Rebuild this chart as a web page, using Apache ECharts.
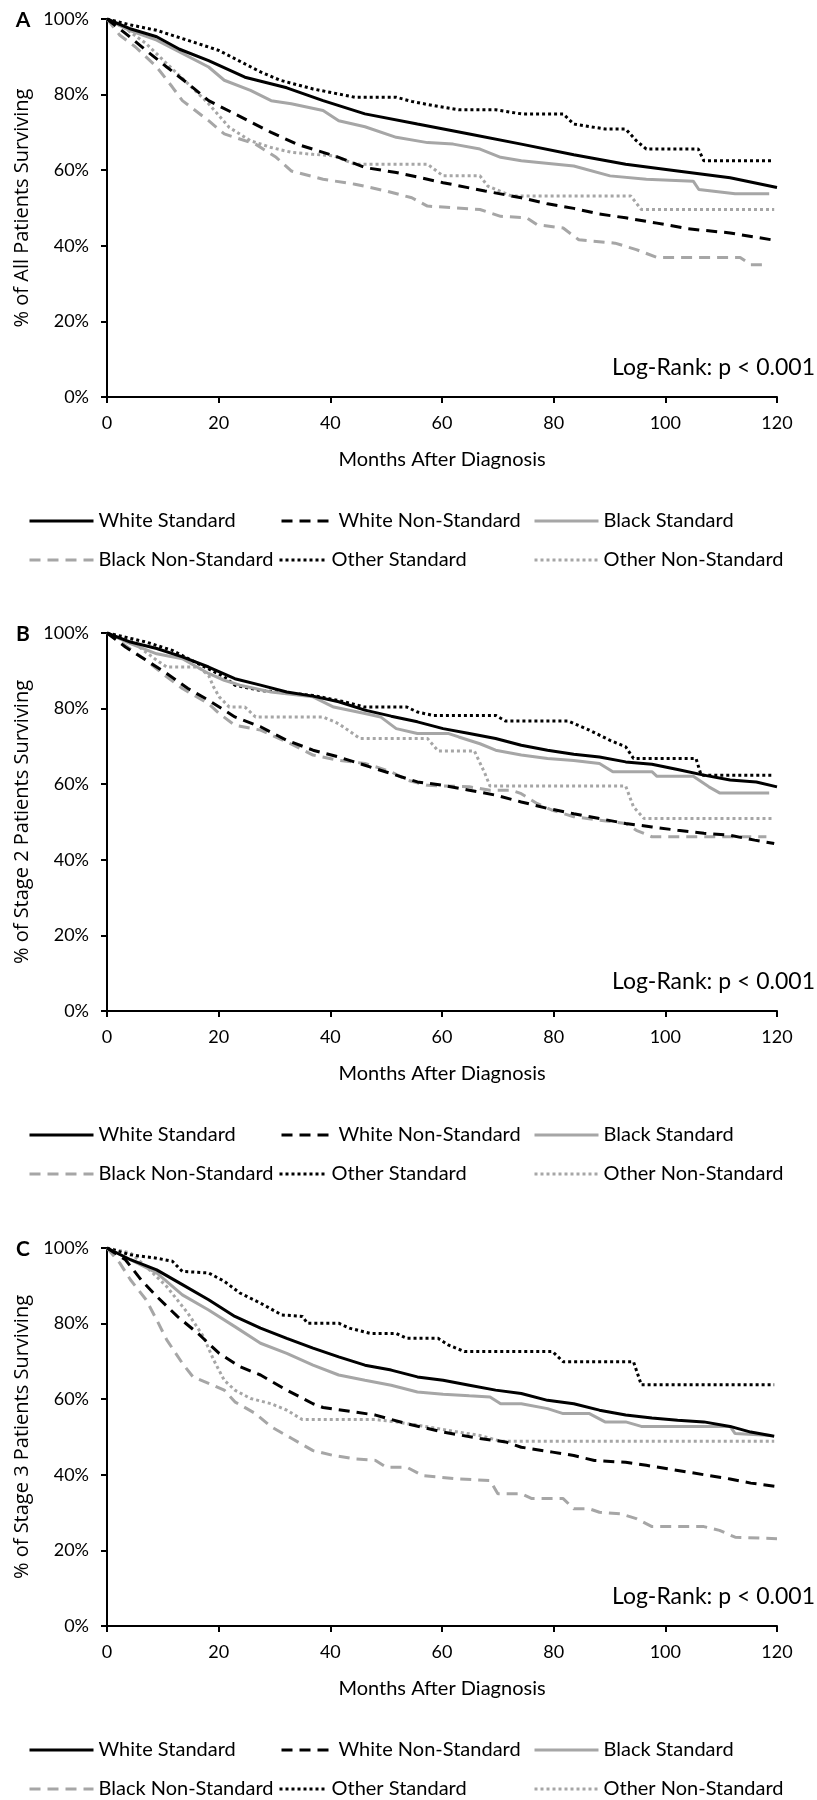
<!DOCTYPE html>
<html><head><meta charset="utf-8">
<script src="https://cdn.jsdelivr.net/npm/echarts@6/dist/echarts.min.js"></script>
<style>html,body{margin:0;padding:0;background:#fff}#c{width:817px;height:1800px}</style>
</head><body><div id="c"></div>
<script>
// ---------- text ----------
const seriesNames = ['White Standard','White Non-Standard','Black Standard','Black Non-Standard','Other Standard','Other Non-Standard'];
const panelLetters = ['A','B','C'];
const yTitles = ['% of All Patients Surviving','% of Stage 2 Patients Surviving','% of Stage 3 Patients Surviving'];
const xTitle = 'Months After Diagnosis';
const statText = 'Log-Rank: p < 0.001';
const xTickStep = 20, xMax = 120;
const yTickStep = 20, yMax = 100;

// ---------- data: [months, % surviving] ----------
// Panel A: all patients
const whiteStdA = [[0,100],[4,97.5],[8.9,95.3],[13,92],[18.2,89],[24.7,84.6],[32.2,81.8],[38.7,78.4],[46.2,74.9],[55.6,72.2],[64.9,69.6],[74.2,66.9],[83.6,64.1],[92.9,61.6],[102.2,59.8],[111.6,58],[120,55.4]];
const whiteNonA = [[0,100],[3.3,96.2],[7,91.7],[10.7,87.3],[14.5,82.9],[18.2,78.4],[22.9,74.9],[29.4,70],[34,66.9],[41.5,63.4],[46.2,60.7],[51.8,59.4],[60.2,56.7],[67.7,54.5],[74.2,52.7],[78.9,51.1],[83.6,49.9],[88.2,48.4],[92.9,47.4],[98.5,46],[104.1,44.5],[111.6,43.4],[119,41.6]];
const blackStdA = [[0,100],[4,97],[8.9,94.4],[13.5,90.9],[18.2,87.3],[21,83.8],[25.7,81.1],[29.4,78.4],[33,77.6],[38.7,75.8],[41.5,73.1],[46.2,71.5],[51.8,68.7],[57.4,67.3],[62,66.9],[66.8,65.6],[70.5,63.4],[74.2,62.5],[83.6,61.1],[90.1,58.5],[96.6,57.6],[105,57.1],[106,54.9],[112.5,53.8],[118.6,53.8]];
const blackNonA = [[0,100],[2.3,95.7],[5.1,92.6],[8.9,87.3],[11.7,82],[13.5,78.4],[18.2,73.1],[21,69.6],[26.6,66.9],[30.3,63.4],[33,59.8],[38.7,57.6],[44.4,56.3],[50,54.5],[54.6,52.7],[57.4,50.5],[66.8,49.6],[70.5,47.8],[75.2,47.4],[77,45.6],[81.7,44.7],[84.5,41.6],[91,40.7],[94.8,39],[98.5,36.9],[113.4,36.9],[115.3,35],[118,35]];
const otherStdA = [[0,100],[4,98.5],[8.9,97],[16.3,93.5],[20,91.7],[27.5,86],[31,83.8],[36.9,81.5],[44.4,79.3],[51.8,79.3],[54.6,78.2],[58.4,77.1],[63,76],[69.6,76],[74.2,74.9],[81.7,74.9],[83.6,72.2],[89.2,70.9],[92.9,70.9],[94.8,67.8],[96.6,65.6],[105.9,65.6],[106.9,62.5],[119,62.5]];
const otherNonA = [[0,100],[3.3,97.5],[7,93.5],[10.7,88.2],[14.5,82.9],[18.2,77.6],[21.9,71.3],[25.7,67.8],[29.4,66],[33.1,64.7],[36.9,64.2],[40.6,63.8],[44.4,61.6],[57.4,61.6],[60.2,58.5],[66.8,58.5],[68.2,55.8],[72.4,53.2],[93.8,53.2],[95.7,49.6],[119.5,49.6]];

// Panel B: stage 2
const whiteStdB = [[0,100],[4.2,97.6],[8.9,95.9],[13.5,93.7],[18.2,91],[22.9,87.9],[27.5,86.2],[32.2,84.4],[36.9,83.3],[41.5,81.8],[46.2,79.6],[50.9,78],[55.6,76.5],[60.2,74.7],[64.9,73.4],[69.6,72.1],[74.2,70.3],[78.9,69],[83.6,67.9],[88.2,67.2],[92.9,65.9],[97.6,65.3],[102.2,63.9],[106.9,62.4],[111.6,61.1],[116.3,60.6],[120,59.3]];
const whiteNonB = [[0,100],[3.3,96.3],[7,92.8],[10.7,89.3],[14.5,85.3],[18.2,82.2],[22.9,77.8],[27.5,75.2],[32.2,71.6],[36.9,69],[41.5,67.2],[46.2,65],[50.9,62.8],[55.6,60.6],[60.2,59.7],[64.9,58.4],[69.6,57.1],[74.2,55.3],[78.9,53.6],[83.6,52.2],[88.2,50.9],[92.9,49.6],[97.6,48.7],[102.2,47.8],[106.9,47],[111.6,46.5],[116,45.2],[119.5,44.3]];
const blackStdB = [[0,100],[4.2,97.2],[8.9,94.5],[13.5,93.2],[18.2,89.3],[21,87.5],[23.8,86.2],[29.4,84.4],[36.9,83.1],[40.6,80.4],[46.2,78.7],[49,77.8],[51.8,74.7],[55.6,73.4],[61.2,73.4],[63,72.5],[66.8,70.7],[69.6,69],[74.2,67.7],[78.9,66.8],[83.6,66.3],[88.2,65.5],[90.6,63.3],[97.6,63.3],[98.5,62.1],[105,62.1],[107.8,59.3],[109.7,57.7],[118.6,57.7]];
const blackNonB = [[0,100],[3.3,96.7],[7,92.8],[10.7,88.4],[13.5,85.3],[18.2,81.3],[20.1,78.7],[22.9,75.6],[27.5,74.3],[32.2,71.2],[36.9,67.7],[41.5,66.3],[46.2,65.5],[50.9,63.3],[53.7,61.1],[57.4,59.7],[64.9,59.3],[68.6,58.4],[72.4,58.4],[74.2,57.5],[77,54.9],[79.8,53.1],[83.6,51.4],[88.2,50.5],[92.9,49.6],[94.8,47.8],[97.6,46.1],[118.1,46.1]];
const otherStdB = [[0,100],[3,99],[7,97.6],[11.7,95.4],[16.3,91.9],[21,88.4],[22.9,86.2],[27.5,84.8],[33.1,84],[36.9,83.5],[42.5,81.8],[46.2,80.4],[53.7,80.4],[55.6,79.1],[58.4,78.2],[69.6,78.2],[71.4,76.7],[82.6,76.7],[86.4,74.3],[90.1,71.6],[92.9,69.9],[94.3,66.8],[105.5,66.8],[106.4,62.4],[119.5,62.4]];
const otherNonB = [[0,100],[4.2,98],[8.9,92.8],[10.7,91],[16.3,91],[18.2,88.8],[19.1,85.7],[20.1,83.1],[21.9,80.4],[24.7,80.4],[26.6,77.8],[38.7,77.8],[41.5,76],[45.3,72.1],[57.4,72.1],[59.3,68.8],[65.8,68.8],[67.7,62.8],[68.6,59.5],[92.9,59.5],[94.3,54],[96.2,50.9],[119.5,50.9]];

// Panel C: stage 3
const whiteStdC = [[0,100],[4.2,96.9],[8.9,94.2],[13.5,90.3],[18.2,86.3],[22.9,81.9],[27.5,78.8],[32.2,76.1],[36.9,73.5],[41.5,71.2],[46.2,69],[50.9,67.7],[55.6,65.9],[60.2,65],[64.9,63.7],[69.6,62.4],[74.2,61.5],[78.9,59.7],[83.6,58.8],[88.2,57.1],[92.9,55.8],[97.6,55],[102.2,54.4],[106.9,54],[111.6,52.8],[115.3,51.3],[119.5,50.2]];
const whiteNonC = [[0,100],[3.3,96.9],[6.1,91.6],[8.9,87.2],[12.6,81.9],[16.3,77.4],[20.1,72.1],[23.8,68.6],[27.5,66.4],[32.2,62.4],[36.9,58.8],[38.7,57.8],[44.4,56.6],[48.1,55.8],[53.7,53.5],[60.2,51.3],[66.8,49.6],[71.4,48.7],[74.2,47.3],[79.8,46],[83.6,45.1],[87.3,43.8],[92.9,43.3],[96.6,42.5],[100.4,41.6],[104.1,40.7],[107.8,39.8],[111.6,38.9],[115.3,37.8],[120,36.9]];
const blackStdC = [[0,100],[4.2,96.9],[8.9,93.4],[13.5,87.6],[18.2,83.6],[22.9,79.2],[27.5,74.8],[32.2,72.1],[36.9,69],[41.5,66.4],[46.2,65],[50.9,63.7],[55.6,61.9],[60.2,61.3],[64.9,60.9],[68.6,60.6],[70.5,58.8],[74.2,58.8],[78.9,57.5],[81.7,56.2],[86.4,56.2],[89.2,54],[92.9,54],[95.7,52.8],[111.6,52.8],[112.5,50.9],[119,50.4]];
const blackNonC = [[0,100],[2.3,96],[4.2,91.6],[7,86.3],[8.9,81],[10.7,75.7],[13.5,69.5],[15.4,65.9],[18.2,64.2],[21,62.4],[22.9,59.3],[26.6,56.2],[29.4,52.7],[33.1,49.6],[36.9,46.4],[40.6,45.1],[44.4,44.2],[48.1,43.8],[50,42],[53.7,42],[56.5,39.8],[63,38.9],[68.6,38.5],[70,35],[74.2,35],[76.1,33.7],[81.7,33.7],[83.6,31],[86.4,31],[88.2,30.1],[92,29.7],[94.8,28.4],[97.6,26.3],[106.9,26.3],[109.7,25.3],[112.5,23.5],[120,23.1]];
const otherStdC = [[0,100],[4.2,98.2],[8.9,97.3],[11.7,96.5],[13.5,93.8],[18.2,93.4],[21,91.2],[23.8,88.1],[27.5,85.4],[31.3,82.3],[35,81.9],[35.9,80.1],[41.5,80.1],[43.4,78.8],[47.2,77.4],[51.8,77.4],[53.7,76.1],[59.3,76.1],[61.2,74.3],[64,72.6],[79.8,72.6],[81.7,69.9],[94.3,69.9],[95.7,63.8],[119.5,63.8]];
const otherNonC = [[0,100],[4.2,98.7],[7,95.1],[10.7,89.8],[14.5,82.7],[17.3,76.5],[19.1,70.4],[21,65],[22.9,62.4],[25.7,60.2],[29.4,58.8],[32.2,57.1],[35,54.6],[48.1,54.6],[51.8,54],[57.4,52.7],[63,51.3],[66.8,50.4],[70.5,48.9],[119.5,48.9]];

const panelData = [
  [whiteStdA, whiteNonA, blackStdA, blackNonA, otherStdA, otherNonA],
  [whiteStdB, whiteNonB, blackStdB, blackNonB, otherStdB, otherNonB],
  [whiteStdC, whiteNonC, blackStdC, blackNonC, otherStdC, otherNonC]
];

// ---------- styles / layout ----------
const GRAY = '#a6a6a6';
const lineStyles = [
  {color:'#000', type:'solid'},
  {color:'#000', type:[11,7]},
  {color:GRAY, type:'solid'},
  {color:GRAY, type:[11,7]},
  {color:'#000', type:[3,3]},
  {color:GRAY, type:[3,3]}
];
const panelTop = [19, 633, 1248];
const plotLeft = 107, plotWidth = 670, plotHeight = 378;
const legendItems = [
  {left:28, w:64, row:0}, {left:280, w:52, row:0}, {left:533, w:64, row:0},
  {left:28, w:64, row:1}, {left:278, w:47, row:1}, {left:533, w:64, row:1}
];
const legendRowOffset = [502, 541];
const TXT = 'Lato, "Open Sans", sans-serif';

const grids = [], xAxes = [], yAxes = [], series = [], legends = [], graphics = [];
panelTop.forEach((top, p) => {
  grids.push({left: plotLeft, top: top, width: plotWidth, height: plotHeight, containLabel: false});
  xAxes.push({
    gridIndex: p, type: 'value', min: 0, max: xMax, interval: xTickStep,
    name: xTitle, nameLocation: 'middle', nameGap: 53,
    nameTextStyle: {fontFamily: TXT, fontSize: 20, color: '#000'},
    axisLine: {show: true, onZero: false, lineStyle: {color: '#000', width: 2}},
    axisTick: {show: true, length: 6, lineStyle: {color: '#000', width: 2}},
    axisLabel: {color: '#000', fontFamily: TXT, fontSize: 18, margin: 17},
    splitLine: {show: false}
  });
  yAxes.push({
    gridIndex: p, type: 'value', min: 0, max: yMax, interval: yTickStep,
    name: yTitles[p], nameLocation: 'middle', nameGap: 70, nameRotate: 90,
    nameTextStyle: {fontFamily: '"Open Sans", sans-serif', fontSize: 20, color: '#000'},
    axisLine: {show: true, onZero: false, lineStyle: {color: '#000', width: 2}},
    axisTick: {show: true, length: 6, lineStyle: {color: '#000', width: 2}},
    axisLabel: {color: '#000', fontFamily: TXT, fontSize: 18, margin: 18, formatter: '{value}%'},
    splitLine: {show: false}
  });
  panelData[p].forEach((d, s) => {
    series.push({
      type: 'line', name: seriesNames[s], xAxisIndex: p, yAxisIndex: p,
      data: d, symbol: 'none', showSymbol: false, animation: false,
      lineStyle: {color: lineStyles[s].color, type: lineStyles[s].type, width: 3},
      itemStyle: {color: lineStyles[s].color},
      z: 10 - s
    });
  });
  seriesNames.forEach((nm, s) => {
    const it = legendItems[s];
    legends.push({
      data: [nm], left: it.left, top: top + legendRowOffset[it.row] - 10,
      itemWidth: it.w, itemHeight: 20, padding: 0, itemGap: 0, selectedMode: false,
      textStyle: {fontFamily: TXT, fontSize: 20, color: '#000'},
      lineStyle: {width: 3},
      itemStyle: {opacity: 0, borderWidth: 0}
    });
  });
  graphics.push({type: 'text', x: 23, y: top + 1, style: {text: panelLetters[p], fontFamily: TXT, fontWeight: 'bold', fontSize: 21, fill: '#000', align: 'center', verticalAlign: 'middle'}});
  graphics.push({type: 'text', x: 815, y: top + 349, style: {text: statText, fontFamily: TXT, fontSize: 23, fill: '#000', align: 'right', verticalAlign: 'middle'}});
});

const chart = echarts.init(document.getElementById('c'), null, {renderer: 'canvas'});
chart.setOption({
  animation: false,
  backgroundColor: '#fff',
  grid: grids, xAxis: xAxes, yAxis: yAxes, series: series, legend: legends,
  graphic: graphics
});
</script></body></html>
